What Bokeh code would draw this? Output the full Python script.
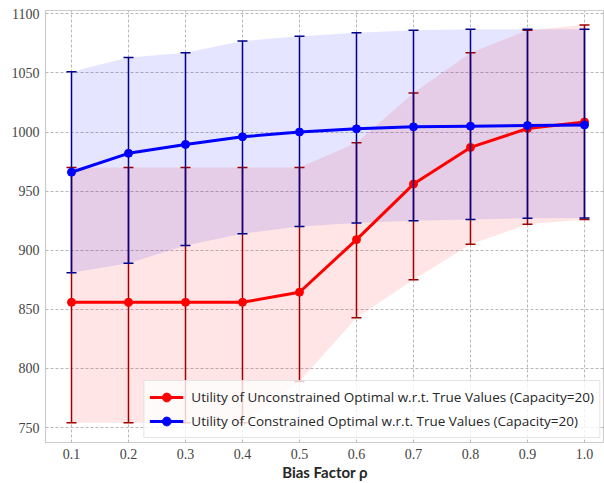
from bokeh.plotting import figure
from bokeh.models import ColumnDataSource, Range1d, FixedTicker, Legend, LegendItem
from bokeh.embed import file_html
from bokeh.resources import INLINE

# ---- data ----
bias = [0.1, 0.2, 0.3, 0.4, 0.5, 0.6, 0.7, 0.8, 0.9, 1.0]
tick_labels = ["0.1", "0.2", "0.3", "0.4", "0.5", "0.6", "0.7", "0.8", "0.9", "1.0"]
y_ticks = [750, 800, 850, 900, 950, 1000, 1050, 1100]

unc_mean = [856, 856, 856, 856, 864.5, 909, 956, 987, 1003, 1008.5]
unc_lower = [754, 754, 754, 754, 789, 843, 875, 905, 922, 926]
unc_upper = [970, 970, 970, 970, 970, 991, 1033, 1067, 1086, 1090.5]

con_mean = [966, 982, 989.5, 996, 1000, 1002.7, 1004.4, 1005, 1005.5, 1006]
con_lower = [881, 889, 904, 914, 920, 923, 925, 926, 927, 927.3]
con_upper = [1051, 1063, 1067, 1077, 1081, 1084, 1086, 1087, 1087, 1087]

unc_label = "Utility of Unconstrained Optimal w.r.t. True Values (Capacity=20)"
con_label = "Utility of Constrained Optimal w.r.t. True Values (Capacity=20)"

# ---- figure ----
p = figure(width=604, height=483, output_backend="svg", toolbar_location=None,
           x_range=Range1d(0.0544, 1.0351), y_range=Range1d(737.4, 1102.8))
p.min_border_left = 45
p.min_border_right = 0
p.min_border_top = 10
p.min_border_bottom = 40
p.outline_line_color = "#cccccc"
p.outline_line_width = 1.2
p.background_fill_color = "white"
p.border_fill_color = "white"

for g in (p.xgrid, p.ygrid):
    g.grid_line_color = "#b8b8b8"
    g.grid_line_dash = "3 2"
    g.grid_line_width = 1

red_src = ColumnDataSource(dict(x=bias, m=unc_mean, lo=unc_lower, hi=unc_upper))
blue_src = ColumnDataSource(dict(x=bias, m=con_mean, lo=con_lower, hi=con_upper))

# shaded bands
p.varea(x="x", y1="lo", y2="hi", source=red_src, fill_color="red", fill_alpha=0.1)
p.varea(x="x", y1="lo", y2="hi", source=blue_src, fill_color="blue", fill_alpha=0.1)

def series(src, bar_color, color):
    p.segment(x0="x", y0="lo", x1="x", y1="hi", source=src,
              line_color=bar_color, line_width=1.5)
    p.scatter(x="x", y="lo", source=src, marker="dash", size=10,
              line_color=bar_color, line_width=1.5)
    p.scatter(x="x", y="hi", source=src, marker="dash", size=10,
              line_color=bar_color, line_width=1.5)
    ln = p.line(x="x", y="m", source=src, line_color=color, line_width=3)
    mk = p.scatter(x="x", y="m", source=src, marker="circle", size=8,
                   fill_color=color, line_color=color)
    return [ln, mk]

red_r = series(red_src, "#a00000", "red")
blue_r = series(blue_src, "#00008b", "blue")

# axes
p.xaxis.ticker = FixedTicker(ticks=bias)
p.xaxis.major_label_overrides = {b: t for b, t in zip(bias, tick_labels)}
p.yaxis.ticker = FixedTicker(ticks=y_ticks)
for ax in (p.xaxis, p.yaxis):
    ax.axis_line_color = None
    ax.major_tick_line_color = None
    ax.minor_tick_line_color = None
    ax.major_tick_out = 0
    ax.major_tick_in = 0
    ax.major_label_text_font = "Liberation Serif"
    ax.major_label_text_font_style = "normal"
    ax.major_label_text_font_size = "14px"
    ax.major_label_text_color = "#444444"
p.yaxis.major_label_standoff = 6
p.xaxis.major_label_standoff = 6
p.xaxis.axis_label = "Bias Factor ρ"
p.xaxis.axis_label_text_font = "Lato"
p.xaxis.axis_label_text_font_style = "bold"
p.xaxis.axis_label_text_font_size = "15px"
p.xaxis.axis_label_text_color = "#262626"
p.xaxis.axis_label_standoff = 1

legend = Legend(items=[LegendItem(label=unc_label, renderers=red_r),
                       LegendItem(label=con_label, renderers=blue_r)],
                location="bottom_right", margin=4, padding=5, spacing=2,
                glyph_width=34, glyph_height=22, label_standoff=8,
                label_text_font="Open Sans", label_text_font_size="13.5px",
                label_text_color="#262626",
                border_line_color="#cccccc", background_fill_alpha=0.8)
p.add_layout(legend)

open("out.html", "w").write(file_html(p, INLINE))
